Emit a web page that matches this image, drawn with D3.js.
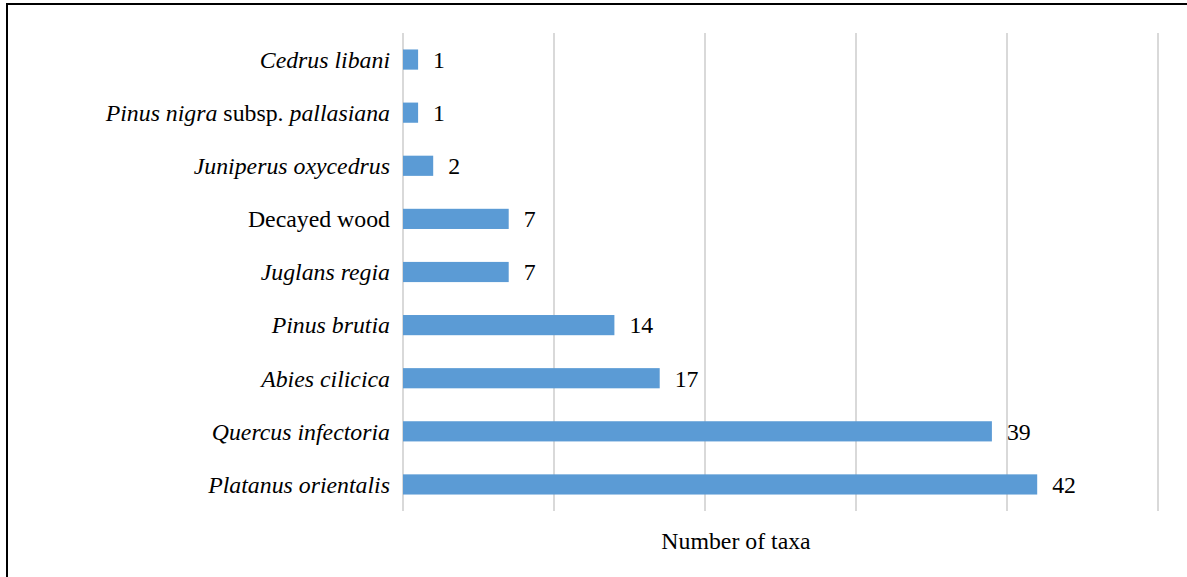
<!DOCTYPE html>
<html>
<head>
<meta charset="utf-8">
<script src="https://cdn.jsdelivr.net/npm/d3@7"></script>
<style>
  html, body { margin: 0; padding: 0; background: #fff; }
  svg { display: block; }
</style>
</head>
<body>
<svg id="chart" width="1187" height="577"></svg>
<script>
// Host taxa (top to bottom) and the number of fungal taxa recorded on each
const hosts = [
  "Cedrus libani",
  "Pinus nigra subsp. pallasiana",
  "Juniperus oxycedrus",
  "Decayed wood",
  "Juglans regia",
  "Pinus brutia",
  "Abies cilicica",
  "Quercus infectoria",
  "Platanus orientalis"
];
const taxaCounts = [1, 1, 2, 7, 7, 14, 17, 39, 42];
// Label pieces: [text, italic?]
const hostLabelParts = [
  [["Cedrus libani", true]],
  [["Pinus nigra", true], [" subsp. ", false], ["pallasiana", true]],
  [["Juniperus oxycedrus", true]],
  [["Decayed wood", false]],
  [["Juglans regia", true]],
  [["Pinus brutia", true]],
  [["Abies cilicica", true]],
  [["Quercus infectoria", true]],
  [["Platanus orientalis", true]]
];
const xTicks = [0, 10, 20, 30, 40, 50];
const axisTitle = "Number of taxa";

const FONT = "Liberation Serif";
const fontSize = 23.8;

const svg = d3.select("#chart");

// outer frame (only top and left edges fall inside the view)
svg.append("rect")
  .attr("x", 7).attr("y", 4)
  .attr("width", 1300).attr("height", 700)
  .attr("fill", "none").attr("stroke", "#000").attr("stroke-width", 2);

const x = d3.scaleLinear().domain([0, 50]).range([403, 1158]);
const y = d3.scaleBand().domain(hosts).range([33, 511])
  .paddingInner(0.62).paddingOuter(0.31);

// vertical gridlines
svg.append("g").selectAll("line")
  .data(xTicks)
  .join("line")
  .attr("x1", d => x(d)).attr("x2", d => x(d))
  .attr("y1", 33).attr("y2", 511)
  .attr("stroke", "#d9d9d9").attr("stroke-width", 2);

// bars
svg.append("g").selectAll("rect")
  .data(hosts)
  .join("rect")
  .attr("x", x(0))
  .attr("y", d => y(d))
  .attr("width", (d, i) => x(taxaCounts[i]) - x(0))
  .attr("height", y.bandwidth())
  .attr("fill", "#5b9bd5");

// value labels
svg.append("g")
  .selectAll("text")
  .data(hosts)
  .join("text")
  .attr("font-family", FONT)
  .attr("font-size", fontSize)
  .attr("x", (d, i) => x(taxaCounts[i]) + 15)
  .attr("y", d => y(d) + y.bandwidth() / 2)
  .attr("dy", "0.35em")
  .attr("fill", "#000")
  .text((d, i) => taxaCounts[i]);

// category labels
svg.append("g")
  .selectAll("text")
  .data(hosts)
  .join("text")
  .attr("font-family", FONT)
  .attr("font-size", fontSize)
  .attr("x", 390)
  .attr("y", d => y(d) + y.bandwidth() / 2)
  .attr("dy", "0.35em")
  .attr("text-anchor", "end")
  .attr("fill", "#000")
  .each(function(d, i) {
    const t = d3.select(this);
    hostLabelParts[i].forEach(([s, it]) => {
      t.append("tspan")
        .attr("font-family", FONT)
        .attr("font-style", it ? "italic" : "normal")
        .style("white-space", "pre")
        .text(s);
    });
  });

// axis title
svg.append("text")
  .attr("x", 736).attr("y", 549)
  .attr("text-anchor", "middle")
  .attr("font-family", FONT)
  .attr("font-size", fontSize)
  .attr("fill", "#000")
  .text(axisTitle);
</script>
</body>
</html>
